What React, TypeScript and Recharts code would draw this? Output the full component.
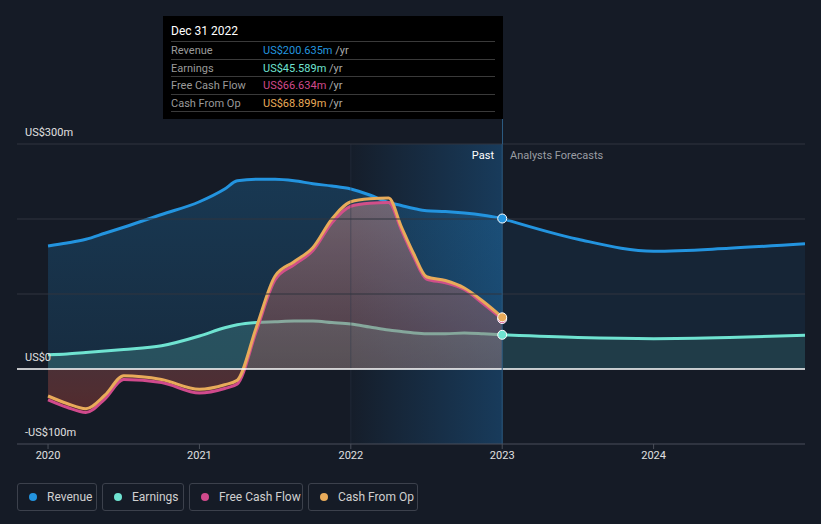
import React from 'react';
import {
  ComposedChart, Area, XAxis, YAxis, ReferenceLine, ReferenceArea, ReferenceDot,
} from 'recharts';

// past, quarterly-ish sample points (year as decimal)
const pastT = [2020, 2020.125, 2020.25, 2020.375, 2020.5, 2020.75, 2021, 2021.167, 2021.25, 2021.375, 2021.5, 2021.625, 2021.75, 2021.875, 2022, 2022.125, 2022.25, 2022.333, 2022.417, 2022.5, 2022.625, 2022.75, 2022.875, 2023];
const revenuePast = [164, 168, 173, 181, 189, 206, 223, 240, 251, 253, 253, 251, 247, 244, 240, 232, 222, 218, 214, 211, 210, 208, 205, 200.635];
const earningsPast = [19, 20, 22, 24, 26, 31, 44, 55, 59, 62, 63, 64, 64, 62, 60, 56, 52, 50, 48, 47, 47, 48, 47, 45.589];
const fcfPast = [-41, -51, -58, -40, -14, -18, -32, -26, -20, 50, 119, 139, 158, 195, 217, 221, 222, 186, 149, 120, 115, 106, 87, 66.634];
const cfoPast = [-36, -46, -53, -35, -9, -14, -27, -21, -15, 55, 124, 143, 162, 200, 223, 227, 228, 190, 153, 123, 118, 108, 90, 68.899];

// analyst forecasts
const forecastT = [2023, 2023.5, 2024, 2024.5, 2025];
const revenueForecast = [200.635, 173, 157, 161, 167];
const earningsForecast = [45.589, 42, 40.5, 42, 45];

const xTicks = [2020, 2021, 2022, 2023, 2024];
const yTicks = [-100, 0, 300];
const yLabels: Record<string, string> = { '300': 'US$300m', '0': 'US$0', '-100': '-US$100m' };

const legendItems = [
  { name: 'Revenue', color: '#2394df', w: 80 },
  { name: 'Earnings', color: '#6fe3d1', w: 82 },
  { name: 'Free Cash Flow', color: '#d04a8c', w: 114 },
  { name: 'Cash From Op', color: '#e8ab5a', w: 110 },
];

const tooltipRows = [
  { label: 'Revenue', value: 'US$200.635m', color: '#2394df' },
  { label: 'Earnings', value: 'US$45.589m', color: '#6fe3d1' },
  { label: 'Free Cash Flow', value: 'US$66.634m', color: '#d04a8c' },
  { label: 'Cash From Op', value: 'US$68.899m', color: '#e8ab5a' },
];

const data: any[] = pastT.map((t, i) => ({
  t,
  rev: revenuePast[i],
  earn: earningsPast[i],
  fcf: fcfPast[i],
  cfo: cfoPast[i],
}));
forecastT.forEach((t, i) => {
  const row = data.find((d) => d.t === t);
  if (row) {
    row.revF = revenueForecast[i];
    row.earnF = earningsForecast[i];
  } else {
    data.push({ t, revF: revenueForecast[i], earnF: earningsForecast[i] });
  }
});

const YTick = (props: any) => {
  const { y, payload } = props;
  return (
    <text x={25} y={y - 8} fill="#e0e0e0" fontSize={11} textAnchor="start">
      {yLabels[String(payload.value)]}
    </text>
  );
};

const last = pastT.length - 1;

export default function App() {
  return (
    <div style={{ position: 'absolute', left: 0, top: 0, width: 821, height: 524, background: '#151b26', fontFamily: 'Roboto, sans-serif', overflow: 'hidden' }}>
      <ComposedChart width={821} height={524} data={data} margin={{ top: 144, right: 16, left: 16, bottom: 50 }}>
        <defs>
          <linearGradient id="pastBand" x1="0" y1="0" x2="1" y2="0">
            <stop offset="0%" stopColor="#2196f3" stopOpacity={0.02} />
            <stop offset="100%" stopColor="#2196f3" stopOpacity={0.26} />
          </linearGradient>
          <linearGradient id="revFill" x1="0" y1="0" x2="0" y2="1">
            <stop offset="0%" stopColor="#2394df" stopOpacity={0.24} />
            <stop offset="100%" stopColor="#2394df" stopOpacity={0.14} />
          </linearGradient>
          <linearGradient id="fcfFill" x1="0" y1="0" x2="0" y2="1">
            <stop offset="0%" stopColor="#c98c92" stopOpacity={0.45} />
            <stop offset="80%" stopColor="#8a4048" stopOpacity={0.4} />
            <stop offset="100%" stopColor="#812a2f" stopOpacity={0.5} />
          </linearGradient>
        </defs>
        <XAxis
          dataKey="t"
          type="number"
          domain={[2019.795, 2025]}
          ticks={xTicks}
          height={30}
          stroke="#4a4f5a"
          tick={{ fill: '#e0e0e0', fontSize: 11 }}
          tickSize={5}
          allowDataOverflow
        />
        <YAxis type="number" domain={[-100, 300]} ticks={yTicks} width={1} axisLine={false} tickLine={false} tick={YTick} allowDataOverflow />
        <ReferenceArea x1={2022} x2={2023} y1={-100} y2={300} fill="url(#pastBand)" fillOpacity={1} stroke="none" />
        <ReferenceLine x={2022} stroke="#2a3a4c" strokeOpacity={0.45} />
        <ReferenceLine y={300} stroke="#30353f" />
        <ReferenceLine y={200} stroke="#30353f" />
        <ReferenceLine y={100} stroke="#30353f" />

        <Area type="monotone" dataKey="rev" stroke="#2394df" strokeWidth={3} fill="url(#revFill)" fillOpacity={1} isAnimationActive={false} dot={false} activeDot={false} />
        <Area type="monotone" dataKey="revF" stroke="#2394df" strokeWidth={3} fill="#2394df" fillOpacity={0.09} isAnimationActive={false} dot={false} activeDot={false} />
        <Area type="monotone" dataKey="earn" stroke="#6fe3d1" strokeWidth={3} fill="#6fe3d1" fillOpacity={0.2} isAnimationActive={false} dot={false} activeDot={false} />
        <Area type="monotone" dataKey="earnF" stroke="#6fe3d1" strokeWidth={3} fill="#6fe3d1" fillOpacity={0.12} isAnimationActive={false} dot={false} activeDot={false} />
        <Area type="monotone" dataKey="fcf" stroke="#d04a8c" strokeWidth={3} fill="url(#fcfFill)" fillOpacity={1} isAnimationActive={false} dot={false} activeDot={false} />
        <Area type="monotone" dataKey="cfo" stroke="#e8ab5a" strokeWidth={3} fill="#e8ab5a" fillOpacity={0.05} isAnimationActive={false} dot={false} activeDot={false} />

        <ReferenceLine y={0} stroke="#ffffff" strokeWidth={1.5} />
        <ReferenceLine x={2023} stroke="#2b5a80" />
        <ReferenceDot x={2023} y={revenuePast[last]} r={4.5} fill="#2394df" stroke="#ffffff" strokeWidth={1} />
        <ReferenceDot x={2023} y={fcfPast[last]} r={4.5} fill="#d04a8c" stroke="#ffffff" strokeWidth={1} />
        <ReferenceDot x={2023} y={cfoPast[last]} r={4.5} fill="#e8ab5a" stroke="#ffffff" strokeWidth={1} />
        <ReferenceDot x={2023} y={earningsPast[last]} r={4.5} fill="#6fe3d1" stroke="#ffffff" strokeWidth={1} />
      </ComposedChart>

      {/* cursor line above plot */}
      <div style={{ position: 'absolute', left: 502, top: 119, width: 1, height: 25, background: '#2b5a80' }} />

      <div style={{ position: 'absolute', left: 300, width: 194, top: 149, textAlign: 'right', color: '#ffffff', fontSize: 11 }}>Past</div>
      <div style={{ position: 'absolute', left: 510, top: 149, color: '#9a9da3', fontSize: 11 }}>Analysts Forecasts</div>

      {/* tooltip */}
      <div style={{ position: 'absolute', left: 163, top: 16, width: 340, height: 103, background: '#000000' }}>
        <div style={{ position: 'absolute', left: 8, top: 8, color: '#ffffff', fontSize: 12 }}>Dec 31 2022</div>
        {tooltipRows.map((r, i) => (
          <div key={r.label} style={{ position: 'absolute', left: 8, top: 25 + i * 17.5, width: 324, height: 17, borderTop: '1px solid #3a3a3a', fontSize: 11, lineHeight: '17px' }}>
            <span style={{ position: 'absolute', left: 0, color: '#9a9a9a' }}>{r.label}</span>
            <span style={{ position: 'absolute', left: 92, color: r.color }}>
              {r.value} <span style={{ color: '#aaaaaa' }}>/yr</span>
            </span>
          </div>
        ))}
        <div style={{ position: 'absolute', left: 8, top: 95, width: 324, borderTop: '1px solid #3a3a3a' }} />
      </div>

      {/* legend */}
      <div style={{ position: 'absolute', left: 17, top: 483, display: 'flex', gap: 5 }}>
        {legendItems.map((l) => (
          <div key={l.name} style={{ boxSizing: 'border-box', width: l.w, height: 28, border: '1px solid #3c414c', borderRadius: 3, display: 'flex', alignItems: 'center', paddingLeft: 11, color: '#d0d0d0', fontSize: 12 }}>
            <span style={{ width: 8, height: 8, borderRadius: 4, background: l.color, marginRight: 10 }} />
            {l.name}
          </div>
        ))}
      </div>
    </div>
  );
}
